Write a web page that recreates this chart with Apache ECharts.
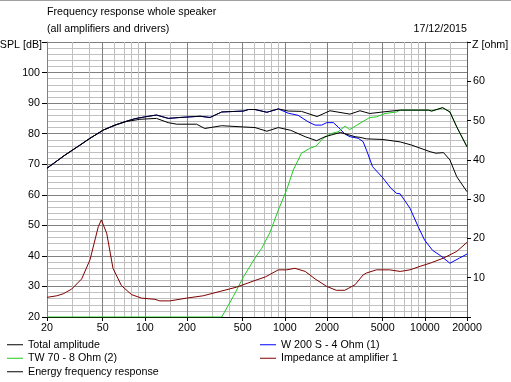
<!DOCTYPE html>
<html><head><meta charset="utf-8">
<script src="https://cdn.jsdelivr.net/npm/echarts@6/dist/echarts.min.js"></script>
<style>html,body{margin:0;padding:0;background:#fff}#c{width:511px;height:382px}</style>
</head><body><div id="c"></div>
<script>
// ---- axis ticks / grid values ----
const xTickLabels = [20, 50, 100, 200, 500, 1000, 2000, 5000, 10000, 20000];
const xMinorLines = [30, 40, 60, 70, 80, 90, 150, 300, 400, 600, 700, 800, 900, 1500, 3000, 4000, 6000, 7000, 8000, 9000, 15000];
const splRange = [20, 110];
const ohmRange = [0, 70];

// ---- series data (frequency in Hz, SPL in dB, impedance in ohm) ----
const totalFreq = [20, 26.9, 33.5, 40.6, 50.6, 61.2, 74.2, 85, 100, 121, 147, 178, 248, 292, 354, 506, 550, 612, 744, 898, 1057, 1314, 1700, 2100, 2920, 3440, 4040, 5000, 6660, 10600, 11190, 13400, 15100, 16900, 20000];
const totalSPL  = [68.7, 73.0, 75.9, 78.5, 81.2, 82.8, 84.1, 84.9, 85.5, 86.1, 85.0, 85.3, 85.7, 85.3, 87.1, 87.4, 87.9, 87.9, 87.0, 88.1, 87.4, 87.3, 85.6, 87.5, 86.4, 87.5, 86.6, 87.1, 87.7, 87.7, 87.4, 88.5, 87.1, 82.2, 75.7];

const energyFreq = [20, 26.9, 33.5, 40.6, 50.6, 61.2, 74.2, 92, 121, 147, 169, 234, 268, 354, 506, 612, 744, 898, 1100, 1398, 1686, 1932, 2500, 3170, 3440, 3830, 5000, 6660, 8000, 10900, 12000, 13600, 15100, 16900, 20000];
const energySPL  = [68.7, 73.0, 75.9, 78.5, 81.2, 82.8, 84.0, 84.7, 85.0, 83.6, 83.1, 83.1, 81.7, 82.6, 82.2, 82.0, 80.8, 82.0, 81.1, 79.0, 77.7, 79.0, 80.4, 79.0, 78.8, 78.3, 78.1, 77.3, 76.3, 74.1, 73.6, 73.8, 71.4, 65.9, 61.0];

const wooferFreq = [20, 26.9, 33.5, 40.6, 50.6, 61.2, 74.2, 85, 100, 121, 147, 178, 248, 292, 354, 506, 550, 612, 744, 898, 1057, 1245, 1464, 1644, 1832, 1986, 2220, 2400, 2680, 2920, 3340, 3620, 3830, 4230, 5000, 5730, 6270, 6660, 7830, 8950, 9950, 11360, 13000, 15100, 17700, 20000];
const wooferSPL  = [68.7, 73.0, 75.9, 78.5, 81.2, 82.8, 84.1, 84.9, 85.5, 86.1, 85.0, 85.3, 85.7, 85.3, 87.1, 87.4, 87.9, 87.9, 87.0, 88.1, 86.7, 86.0, 83.9, 82.8, 82.8, 83.6, 83.6, 82.2, 79.9, 79.0, 78.5, 77.4, 74.6, 69.2, 65.6, 62.1, 60.5, 60.3, 55.6, 49.6, 45.2, 41.8, 40.0, 37.6, 39.3, 40.6];

const tweeterFreq = [20, 100, 354, 428, 506, 612, 665, 684, 782, 898, 1030, 1149, 1314, 1504, 1664, 1880, 2160, 2400, 2700, 2900, 3270, 3780, 4040, 4500, 5200, 6270, 6660, 10600, 11190, 13400, 15100, 16900, 20000];
const tweeterSPL  = [20, 20, 20, 26.7, 33.1, 39.3, 41.7, 42.5, 47.6, 55.0, 61.6, 68.1, 73.6, 75.2, 75.9, 78.5, 80.1, 80.6, 82.5, 81.3, 82.8, 84.5, 85.3, 85.5, 86.6, 87.1, 87.7, 87.7, 87.4, 88.5, 87.1, 82.2, 75.7];

const impFreq = [20, 23.5, 26.1, 30, 35.4, 40.6, 44.0, 46.5, 48.9, 53.4, 59.2, 68, 80.3, 94.8, 118, 128, 151, 198, 261, 343, 452, 612, 726, 898, 1030, 1180, 1398, 1644, 1986, 2330, 2680, 3170, 3620, 3830, 4500, 5600, 6660, 7830, 9250, 10900, 13600, 16900, 20000];
const impOhm  = [5.0, 5.4, 5.9, 7.1, 9.7, 14.6, 19.6, 23.0, 24.7, 21.3, 12.4, 8.0, 5.7, 4.8, 4.5, 4.1, 4.1, 4.8, 5.4, 6.5, 7.6, 9.3, 10.2, 12.0, 12.0, 12.4, 11.6, 9.7, 7.8, 6.8, 6.8, 8.2, 10.7, 11.2, 12.0, 12.0, 11.6, 12.0, 12.9, 13.7, 15.0, 16.7, 19.0];

const names = {
  total: 'Total amplitude', tw: 'TW 70 - 8 Ohm (2)', energy: 'Energy frequency response',
  w: 'W 200 S - 4 Ohm (1)', imp: 'Impedance at amplifier 1'
};

const L = Math.log10;
const pts = (f, v) => f.map((x, i) => [L(x), v[i]]);
const FONT = '"Liberation Sans", Arial, sans-serif';
const txt = { fontFamily: FONT, fontSize: 10.7, color: '#000', fontWeight: 'normal' };

const chart = echarts.init(document.getElementById('c'), null, { renderer: 'canvas' });
const lineSeries = (name, data, color, yIdx) => ({
  name, type: 'line', data: pts(data[0], data[1]), xAxisIndex: 0, yAxisIndex: yIdx,
  symbol: 'none', lineStyle: { color, width: 1 }, itemStyle: { color }, emphasis: { disabled: true }
});

chart.setOption({
  animation: false,
  backgroundColor: '#fff',
  textStyle: { fontFamily: FONT },
  title: [
    { text: 'Frequency response whole speaker', left: 47, top: 7, padding: 0, textStyle: txt },
    { text: '(all amplifiers and drivers)', left: 47, top: 24, padding: 0, textStyle: txt },
    { text: '17/12/2015', right: 44, top: 24, padding: 0, textStyle: txt }
  ],
  graphic: [{ type: 'line', shape: { x1: 0, y1: 0.5, x2: 511, y2: 0.5 }, style: { stroke: '#a0a0a0', lineWidth: 1 }, silent: true }],
  grid: { left: 47, right: 44, top: 42, height: 275, outerBoundsMode: 'none' },
  xAxis: [
    { type: 'value', position: 'bottom', min: L(20), max: L(20000),
      axisLine: { show: true, onZero: false, lineStyle: { color: '#000', width: 1 } },
      axisTick: { show: true, length: 4, customValues: xTickLabels.map(L), lineStyle: { color: '#000' } },
      axisLabel: { show: true, customValues: xTickLabels.map(L), margin: 6, ...txt,
        formatter: v => String(Math.round(Math.pow(10, v))) },
      splitLine: { show: true, lineStyle: { color: '#808080', width: 1 } } }
  ],
  yAxis: [
    { type: 'value', position: 'left', min: splRange[0], max: splRange[1], interval: 2,
      axisLine: { show: false }, axisTick: { show: false }, axisLabel: { show: false },
      splitLine: { show: true, lineStyle: { color: '#c0c0c0', width: 1 } } },
    { type: 'value', position: 'left', min: splRange[0], max: splRange[1], interval: 10,
      name: 'SPL [dB]', nameLocation: 'end', nameGap: -3.5,
      nameTextStyle: { ...txt, align: 'right', verticalAlign: 'middle', padding: [0, 5, 0, 0] },
      axisLine: { show: true, onZero: false, lineStyle: { color: '#808080' } },
      axisTick: { show: true, length: 5, lineStyle: { color: '#000' } },
      axisLabel: { show: true, margin: 7, ...txt, formatter: v => (v === splRange[1] ? '' : String(v)) },
      splitLine: { show: true, lineStyle: { color: '#808080', width: 1 } } },
    { type: 'value', position: 'right', min: ohmRange[0], max: ohmRange[1], interval: 10,
      name: 'Z [ohm]', nameLocation: 'end', nameGap: -3.5,
      nameTextStyle: { ...txt, align: 'left', verticalAlign: 'middle', padding: [0, 0, 0, 5] },
      axisLine: { show: true, onZero: false, lineStyle: { color: '#606060' } },
      axisTick: { show: true, length: 4, lineStyle: { color: '#000' } },
      axisLabel: { show: true, margin: 6, ...txt, formatter: v => (v === ohmRange[0] || v === ohmRange[1] ? '' : String(v)) },
      splitLine: { show: false } }
  ],
  legend: [
    { data: [names.total, names.tw, names.energy], orient: 'vertical', left: 7, top: 338, padding: 0,
      icon: 'rect', itemWidth: 16, itemHeight: 1, itemGap: 0,
      textStyle: { ...txt, lineHeight: 13.5, height: 13.5, verticalAlign: 'middle' }, selectedMode: false },
    { data: [names.w, names.imp], orient: 'vertical', left: 260, top: 338, padding: 0,
      icon: 'rect', itemWidth: 16, itemHeight: 1, itemGap: 0,
      textStyle: { ...txt, lineHeight: 13.5, height: 13.5, verticalAlign: 'middle' }, selectedMode: false }
  ],
  series: [
    { name: 'minor frequency grid', type: 'line', data: [], xAxisIndex: 0, yAxisIndex: 1, silent: true, z: 1,
      markLine: { silent: true, symbol: 'none', animation: false, z: 1, label: { show: false },
        lineStyle: { color: '#c0c0c0', width: 1, type: 'solid' }, emphasis: { disabled: true },
        data: xMinorLines.map(f => ({ xAxis: L(f) })) } },
    lineSeries(names.w, [wooferFreq, wooferSPL], '#0000ff', 1),
    lineSeries(names.tw, [tweeterFreq, tweeterSPL], '#22cc22', 1),
    lineSeries(names.imp, [impFreq, impOhm], '#800000', 2),
    lineSeries(names.energy, [energyFreq, energySPL], '#000000', 1),
    lineSeries(names.total, [totalFreq, totalSPL], '#000000', 1)
  ]
});
</script></body></html>
